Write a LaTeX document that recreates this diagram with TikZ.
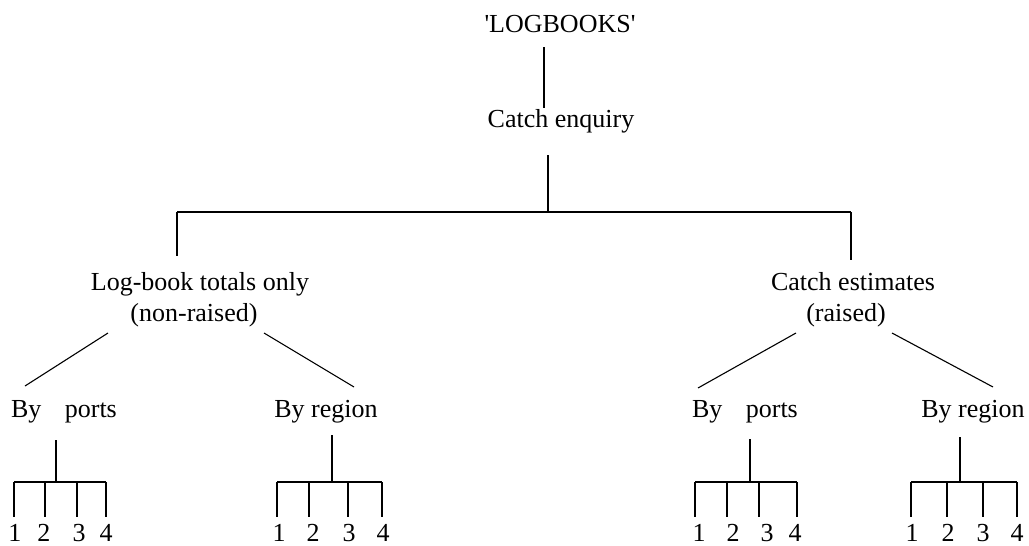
\documentclass[tikz,border=0pt]{standalone}
\usepackage{fontspec}
\setmainfont{Liberation Serif}
\newfontfamily\plainserif{Liberation Serif}[Ligatures=TeXOff]
\begin{document}
\begin{tikzpicture}[x=1pt,y=-1pt,line width=1.1pt,
  lbl/.style={font=\fontsize{26}{32}\selectfont,inner sep=0pt,anchor=base},
  conn/.style={line width=1.1pt}]
\useasboundingbox (0,0) rectangle (1029,546);
% text nodes
\node[lbl] (logbooks) at (560,32) {{\plainserif'}LOGBOOKS{\plainserif'}};
\node[lbl] (catch) at (561,127) {Catch enquiry};
\node[lbl] (lbt) at (200,290) {Log-book totals only};
\node[lbl] (lbtb) at (194,321) {(non-raised)};
\node[lbl] (est) at (853,290) {Catch estimates};
\node[lbl] (estb) at (846,321) {(raised)};
\node[lbl] (lp) at (64,417) {By\hspace{0.9em}ports};
\node[lbl] (lr) at (326,417) {By region};
\node[lbl] (rp) at (745,417) {By\hspace{0.9em}ports};
\node[lbl] (rr) at (973,417) {By region};
% digits
\foreach \n/\x/\t in {lp1/15/1,lp2/44/2,lp3/79/3,lp4/106/4,
                      lr1/279/1,lr2/313/2,lr3/349/3,lr4/383/4,
                      rp1/699/1,rp2/733/2,rp3/767/3,rp4/795/4,
                      rr1/912/1,rr2/948/2,rr3/983/3,rr4/1017/4}
  \node[lbl] (\n) at (\x,541) {\t};
% junction coordinates
\coordinate (lbS) at (544,47);
\coordinate (ceN) at (544,108);
\coordinate (ceS) at (548,155);
\coordinate (jT) at (548,212);
\coordinate (jL) at (177,212);
\coordinate (jR) at (851,212);
\coordinate (lbtN) at (177,256);
\coordinate (estN) at (851,260);
\coordinate (lbtSW) at (108,333);
\coordinate (lbtSE) at (264,333);
\coordinate (lpN) at (25,386);
\coordinate (lrN) at (354,387);
\coordinate (estSW) at (796,333);
\coordinate (estSE) at (892,333);
\coordinate (rpN) at (698,388);
\coordinate (rrN) at (993,387);
% connectors
\draw[conn] (lbS) -- (ceN);
\draw[conn] (ceS) -- (jT);
\draw[conn] (jL) -- (jR);
\draw[conn] (jL) -- (lbtN);
\draw[conn] (jR) -- (estN);
\draw[conn] (lbtSW) -- (lpN);
\draw[conn] (lbtSE) -- (lrN);
\draw[conn] (estSW) -- (rpN);
\draw[conn] (estSE) -- (rrN);
% small combs
\foreach \g/\s/\st/\a/\b/\c/\d in {lp/56/440/14/45/77/106,
                                  lr/332/435/277/309/348/382,
                                  rp/750/439/695/727/759/797,
                                  rr/960/437/911/947/983/1017}{
  \coordinate (\g-top) at (\s,\st);
  \coordinate (\g-mid) at (\s,482);
  \coordinate (\g-a) at (\a,482);
  \coordinate (\g-d) at (\d,482);
  \draw[conn] (\g-top) -- (\g-mid);
  \draw[conn] (\g-a) -- (\g-d);
  \foreach \t in {\a,\b,\c,\d}{
    \coordinate (\g-t\t) at (\t,482);
    \coordinate (\g-b\t) at (\t,517);
    \draw[conn] (\g-t\t) -- (\g-b\t);
  }
}
\end{tikzpicture}
\end{document}
